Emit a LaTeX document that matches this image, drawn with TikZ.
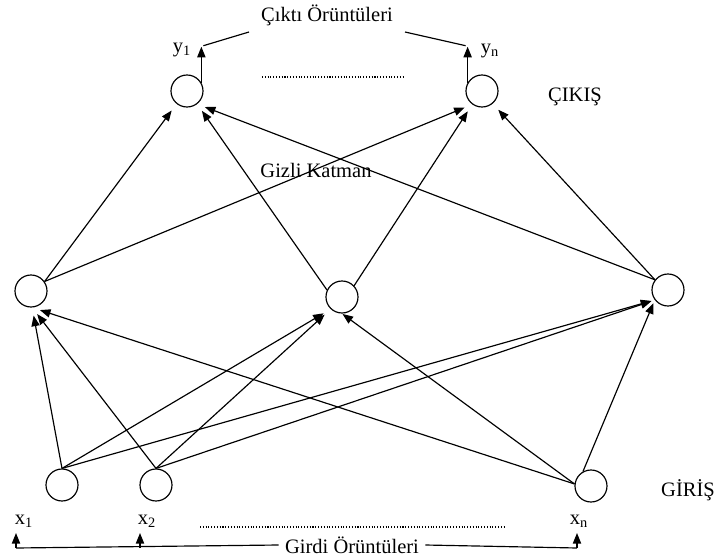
\documentclass[tikz,border=0pt]{standalone}
\usepackage{fontspec}
\setmainfont{Liberation Serif}
\usetikzlibrary{arrows.meta}

\begin{document}
\begin{tikzpicture}[x=0.03cm,y=-0.03cm,>={Triangle[length=9pt,width=7pt]},line width=1pt,
  neuron/.style={draw,circle,minimum size=0.96cm,inner sep=0pt},
  link/.style={->,shorten >=7pt},
  lbl/.style={font=\fontsize{17.5}{20}\selectfont,inner sep=0pt},
  dots/.style={line width=1.1pt,dash pattern=on 0.9pt off 1.5pt}]
\useasboundingbox (0,0) rectangle (718,556);
% neurons
\node[neuron] (out1) at (187,91) {};
\node[neuron] (outn) at (482,91) {};
\node[neuron] (hid1) at (31,291) {};
\node[neuron] (hid2) at (342,297) {};
\node[neuron] (hid3) at (668,290) {};
\node[neuron] (inp1) at (62,485) {};
\node[neuron] (inp2) at (156,485) {};
\node[neuron] (inpn) at (591,486) {};
% labels
\node[lbl] (cikti) at (327,15) {Çıktı Örüntüleri};
\node[lbl] (ylab1) at (182,50) {y\textsubscript{1}};
\node[lbl] (ylabn) at (490,51) {y\textsubscript{n}};
\node[lbl] (cikis) at (575,97) {ÇIKIŞ};
\node[lbl] (gizli) at (316,170) {Gizli Katman};
\node[lbl] (giris) at (688,490) {GİRİŞ};
\node[lbl] (xlab1) at (24,521) {x\textsubscript{1}};
\node[lbl] (xlab2) at (147,521) {x\textsubscript{2}};
\node[lbl] (xlabn) at (579,521) {x\textsubscript{n}};
\node[lbl,inner xsep=5pt] (girdi) at (352,545) {Girdi Örüntüleri};
% hidden -> output
\draw[link] (hid1.35) -- (out1.231);
\draw[link] (hid1.35) -- (outn.234);
\draw[link] (hid2.155) -- (out1.308);
\draw[link] (hid2.43) -- (outn.234);
\draw[link] (hid3.142) -- (out1.308);
\draw[link] (hid3.142) -- (outn.310);
% input -> hidden
\draw[link] (inp1.north) -- (hid1.274);
\draw[link] (inp2.north) -- (hid1.274);
\draw[link] (inpn.173) -- (hid1.274);
\draw[link] (inp1.north) -- (hid2.227);
\draw[link] (inp2.north) -- (hid2.227);
\draw[link,shorten >=0.5pt] (inpn.173) -- (hid2.south);
\draw[link,shorten >=3pt] (inp1.north) -- (hid3.217);
\draw[link,shorten >=3pt] (inp2.north) -- (hid3.217);
\draw[link,shorten >=3pt] (inpn.119) -- (hid3.217);
% outputs
\coordinate (c1) at (249,32);
\coordinate (cn) at (405,32);
\draw[->] (out1.30) -- ++(0,-36) coordinate (y1top);
\draw[->] (outn.150) -- ++(0,-36) coordinate (yntop);
\draw ([shift={(2,-1)}]y1top) -- (c1);
\draw (cn) -- ([shift={(-2,-1)}]yntop);
\draw[dots] (262,77) -- (404,77);
% inputs
\coordinate (b1) at (16,548);
\coordinate (b2) at (140,548);
\coordinate (bn) at (577,548);
\draw (b1) -- (girdi.west);
\draw (girdi.east) -- (bn);
\draw[->] (b1) -- ++(0,-15);
\draw[->] (b2) -- ++(0,-15);
\draw[->] (bn) -- ++(0,-15);
\draw[dots] (200,527) -- (505,527);
\end{tikzpicture}
\end{document}
